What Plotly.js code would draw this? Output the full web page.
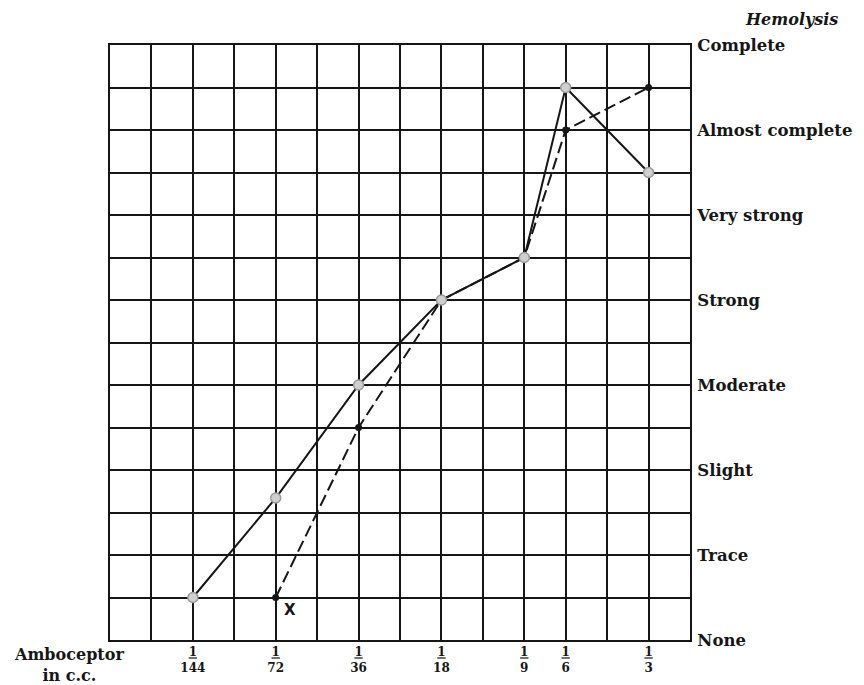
<!DOCTYPE html>
<html>
<head>
<meta charset="utf-8">
<script src="https://cdn.plot.ly/plotly-3.0.1.min.js"></script>
<style>html,body{margin:0;padding:0;background:#fff;}#chart{width:864px;height:685px;}</style>
</head>
<body>
<div id="chart"></div>
<script>
// Amboceptor doses (tick labels) and their column positions on the ruled grid
const doseLabels = ['1/144', '1/72', '1/36', '1/18', '1/9', '1/6', '1/3'];
const dosePositions = [2, 4, 6, 8, 10, 11, 13];

// Hemolysis levels (0 = None ... 7 = Complete)
const levelLabels = ['None', 'Trace', 'Slight', 'Moderate', 'Strong', 'Very strong', 'Almost complete', 'Complete'];
const levelValues = [0, 1, 2, 3, 4, 5, 6, 7];

// Solid curve (grey markers)
const solidX = [2, 4, 6, 8, 10, 11, 13];
const solidY = [0.5, 1.67, 3, 4, 4.5, 6.5, 5.5];

// Dashed curve (black dots), starting at the point marked X
const dashedX = [4, 6, 8, 10, 11, 13];
const dashedY = [0.5, 2.5, 4, 4.5, 6, 6.5];

const serif = 'DejaVu Serif, Liberation Serif, serif';
const ink = '#161616';
const gw = 2;

const tickText = doseLabels.map(function (d) {
  const p = d.split('/');
  return '<b><u>' + p[0] + '</u></b><br><b>' + p[1] + '</b>';
});

const traces = [
  {
    x: dashedX, y: dashedY, type: 'scatter', mode: 'lines+markers',
    line: {color: ink, width: 2, dash: '12px,5px'},
    marker: {color: ink, size: 7},
    hoverinfo: 'skip'
  },
  {
    x: solidX, y: solidY, type: 'scatter', mode: 'lines+markers',
    line: {color: ink, width: 2},
    marker: {color: '#cfcfcf', size: 10, line: {color: '#9a9a9a', width: 1.5}},
    hoverinfo: 'skip'
  }
];

const layout = {
  width: 864, height: 685,
  margin: {l: 110, r: 174, t: 45, b: 45},
  paper_bgcolor: '#fff', plot_bgcolor: '#fff',
  showlegend: false,
  xaxis: {
    range: [0, 14], fixedrange: true,
    tickmode: 'array', tickvals: dosePositions, ticktext: tickText,
    tickfont: {family: serif, size: 12, color: ink},
    ticks: '', ticklen: 0,
    showgrid: true, gridcolor: ink, gridwidth: gw,
    minor: {tickmode: 'linear', tick0: 0, dtick: 1, showgrid: true, gridcolor: ink, gridwidth: gw},
    showline: true, mirror: true, linecolor: ink, linewidth: gw,
    zeroline: false
  },
  yaxis: {
    range: [0, 7], fixedrange: true, side: 'right',
    tickmode: 'array', tickvals: levelValues, ticktext: levelLabels.map(function (s) { return '<b>' + s + '</b>'; }),
    tickfont: {family: serif, size: 16.5, color: ink},
    ticks: '', ticklabelstandoff: 2,
    showgrid: true, gridcolor: ink, gridwidth: gw,
    minor: {tickmode: 'linear', tick0: 0, dtick: 0.5, showgrid: true, gridcolor: ink, gridwidth: gw},
    showline: true, mirror: true, linecolor: ink, linewidth: gw,
    zeroline: false
  },
  annotations: [
    {
      text: '<b><i>Hemolysis</i></b>', xref: 'paper', yref: 'paper',
      x: 1.175, y: 1.0, yshift: 26, showarrow: false, xanchor: 'center', yanchor: 'middle',
      font: {family: 'DejaVu Serif, serif', size: 16, color: ink}
    },
    {
      text: '<b>Amboceptor<br>in c.c.</b>', xref: 'paper', yref: 'paper',
      x: -0.07, y: 0, yshift: -25, showarrow: false, xanchor: 'center', yanchor: 'middle',
      font: {family: serif, size: 16, color: ink}
    },
    {
      text: '<b>X</b>', xref: 'x', yref: 'y', x: dashedX[0], y: dashedY[0],
      xshift: 14, yshift: -12, showarrow: false,
      font: {family: 'DejaVu Sans, sans-serif', size: 15, color: ink}
    }
  ]
};

Plotly.newPlot('chart', traces, layout, {staticPlot: true, displayModeBar: false});
</script>
</body>
</html>
